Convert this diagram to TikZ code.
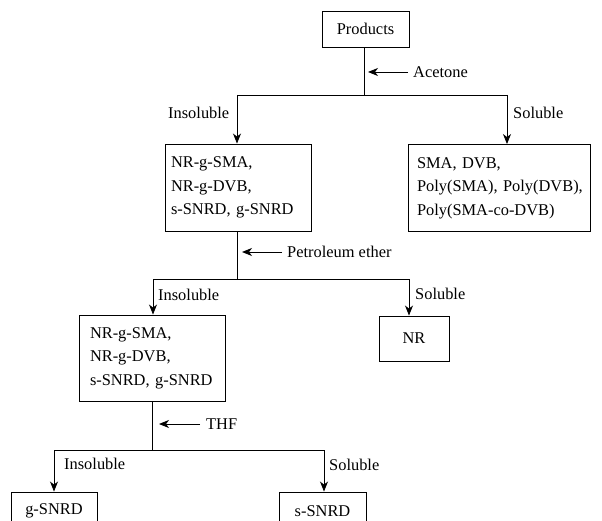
\documentclass[tikz,border=0pt]{standalone}
\usepackage{fontspec}
\setmainfont{Liberation Serif}
\usetikzlibrary{arrows.meta}
\begin{document}
\begin{tikzpicture}[x=1pt,y=-1pt,
  box/.style={draw, line width=0.9pt, inner ysep=0pt, font=\fontsize{16.4}{23.5}\selectfont},
  lbl/.style={inner sep=0pt, anchor=west, font=\fontsize{16.4}{20}\selectfont},
  ln/.style={line width=0.9pt},
  arr/.style={line width=0.9pt, -{Stealth[length=10pt,width=8pt,inset=3pt]}}]
\clip (0,0) rectangle (602,521);
% boxes
\node[box, minimum width=87pt, minimum height=36pt, inner xsep=0pt] (P) at (365.5,29) {Products};
\node[box, minimum width=146pt, minimum height=87pt, inner xsep=6pt, text width=134pt, align=left] (A) at (238,187.5) {NR-g-SMA,\\NR-g-DVB,\\s-SNRD, g-SNRD};
\node[box, minimum width=182pt, minimum height=87pt, inner xsep=9pt, text width=164pt, align=left] (B) at (499,188) {SMA, DVB,\\\mbox{Poly(SMA), Poly(DVB),}\\Poly(SMA-co-DVB)};
\node[box, minimum width=146pt, minimum height=86pt, inner xsep=11pt, text width=124pt, align=left] (C) at (152,358) {NR-g-SMA,\\NR-g-DVB,\\\mbox{s-SNRD, g-SNRD}};
\node[box, minimum width=70pt, minimum height=45pt, inner xsep=0pt] (NR) at (414,338.5) {NR};
\node[box, minimum width=86pt, minimum height=38pt, inner xsep=0pt] (G) at (54,511) {g-SNRD};
\node[box, minimum width=87pt, minimum height=38pt, inner xsep=0pt] (S) at (322.5,511) {s-SNRD};
% labels
\node[lbl] (Ac) at (413,72) {Acetone};
\node[lbl] (I1) at (168,113) {Insoluble};
\node[lbl] (S1) at (513,113) {Soluble};
\node[lbl] (Pe) at (287,252) {Petroleum ether};
\node[lbl] (I2) at (158,295) {Insoluble};
\node[lbl] (S2) at (415,294) {Soluble};
\node[lbl] (Th) at (206,424) {THF};
\node[lbl] (I3) at (64,464) {Insoluble};
\node[lbl] (S3) at (329,465) {Soluble};
% junction coordinates
\coordinate (j1) at (364,95);
\coordinate (l1) at (237,95);
\coordinate (r1) at (507,95);
\coordinate (a1) at (368,72);
\coordinate (j2) at (237,279);
\coordinate (l2) at (153,279);
\coordinate (r2) at (409,279);
\coordinate (a2) at (242,252);
\coordinate (j3) at (152,450);
\coordinate (l3) at (54,450);
\coordinate (r3) at (324,450);
\coordinate (a3) at (159,424);
% level 1
\draw[ln] (P.south -| j1) -- (j1);
\draw[ln] (l1) -- (r1);
\draw[arr] (l1) -- (l1 |- A.north);
\draw[arr] (r1) -- (r1 |- B.north);
\draw[arr] ([xshift=-5pt]Ac.west) -- (a1);
% level 2
\draw[ln] (A.south -| j2) -- (j2);
\draw[ln] (l2) -- (r2);
\draw[arr] (l2) -- (l2 |- C.north);
\draw[arr] (r2) -- (r2 |- NR.north);
\draw[arr] ([xshift=-5pt]Pe.west) -- (a2);
% level 3
\draw[ln] (C.south -| j3) -- (j3);
\draw[ln] (l3) -- (r3);
\draw[arr] (l3) -- (l3 |- G.north);
\draw[arr] (r3) -- (r3 |- S.north);
\draw[arr] ([xshift=-6pt]Th.west) -- (a3);
\end{tikzpicture}
\end{document}
